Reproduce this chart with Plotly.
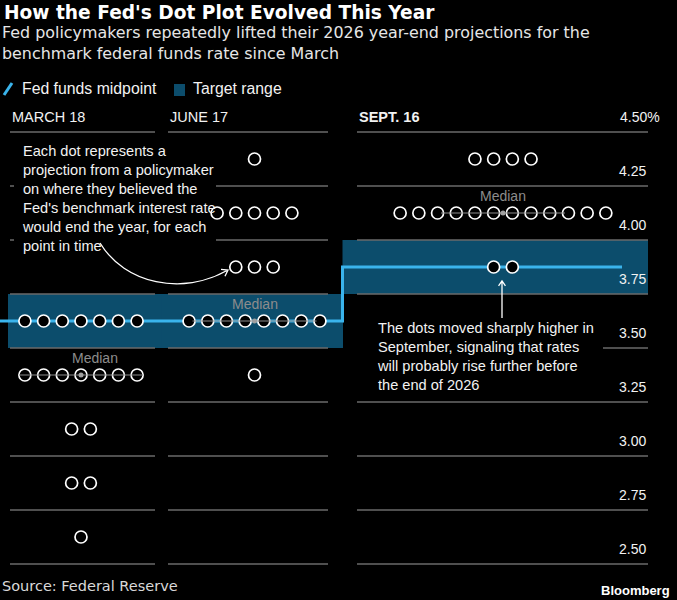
import math
import plotly.graph_objects as go

# ---------------- data ----------------
meetings = ["MARCH 18", "JUNE 17", "SEPT. 16"]
dot_levels = [4.375, 4.125, 3.875, 3.625, 3.375, 3.125, 2.875, 2.625]
dots_march = [0, 0, 0, 7, 7, 2, 2, 1]
dots_june = [1, 5, 3, 8, 1, 0, 0, 0]
dots_sept = [4, 12, 2, 0, 0, 0, 0, 0]
medians = [3.375, 3.625, 4.125]
target_low = [3.50, 3.50, 3.75]
target_high = [3.75, 3.75, 4.00]
tick_values = [4.50, 4.25, 4.00, 3.75, 3.50, 3.25, 3.00, 2.75, 2.50]
tick_labels = ["4.50%", "4.25", "4.00", "3.75", "3.50", "3.25", "3.00", "2.75", "2.50"]

# ---------------- layout constants ----------------
W, H = 677, 600
PX_PER_UNIT = 216.0
Y_REF_PX, Y_REF_VAL = 132.0, 4.50


def yv(py):
    return Y_REF_VAL - (py - Y_REF_PX) / PX_PER_UNIT


Y_TOP, Y_BOT = yv(0), yv(H)

panel_x = [(10, 155), (168, 328), (357, 648)]
dot_center = [81, 254.5, 503]
median_label_dx = [14, 0, 0]
band_x = [(8, 162.5), (161.5, 343), (342.5, 648)]
line_x = [(0, 161.5), (161.5, 342.5), (342.5, 622)]
spacing = 18.7
header_bold = [False, False, True]

BG = "#000000"
BAND = "#0c4d6c"
LINE = "#3ab4ec"
GRID = "#6a6a6a"
TXT = "#f2f2f2"
MED = "#8c8c8c"
ARIAL = "Liberation Sans, Arial, sans-serif"
DEJAVU = "DejaVu Sans, sans-serif"

fig = go.Figure()
shapes = []
annotations = []

# target range bands
for (x0, x1), lo, hi in zip(band_x, target_low, target_high):
    shapes.append(dict(type="rect", xref="x", yref="y", x0=x0, x1=x1, y0=lo, y1=hi,
                       fillcolor=BAND, line=dict(width=0), layer="below"))

# gridlines per panel
for (x0, x1) in panel_x:
    for v in tick_values:
        shapes.append(dict(type="line", xref="x", yref="y", x0=x0, x1=x1, y0=v, y1=v,
                           line=dict(color=GRID, width=1.5), layer="below"))

# black backings behind annotation texts (hide gridlines)
shapes.append(dict(type="rect", xref="x", yref="y", x0=14, x1=216, y0=yv(247), y1=yv(140),
                   fillcolor=BG, line=dict(width=0), layer="below"))
shapes.append(dict(type="rect", xref="x", yref="y", x0=357, x1=603, y0=yv(392), y1=yv(318),
                   fillcolor=BG, line=dict(width=0), layer="below"))

# fed funds midpoint line (step)
lx, ly = [], []
for (x0, x1), lo, hi in zip(line_x, target_low, target_high):
    mid = (lo + hi) / 2
    lx += [x0, x1]
    ly += [mid, mid]
fig.add_trace(go.Scatter(x=lx, y=ly, mode="lines", line=dict(color=LINE, width=3),
                         hoverinfo="skip", name="Fed funds midpoint"))

# dots
for k, counts in enumerate([dots_march, dots_june, dots_sept]):
    xs, ys = [], []
    for lvl, n in zip(dot_levels, counts):
        for i in range(n):
            xs.append(dot_center[k] + (i - (n - 1) / 2) * spacing)
            ys.append(lvl)
    fig.add_trace(go.Scatter(x=xs, y=ys, mode="markers",
                             marker=dict(size=12, color=BG, line=dict(color="white", width=1.7)),
                             hoverinfo="skip", name=meetings[k]))

# medians
for k, m in enumerate(medians):
    c = dot_center[k]
    fig.add_trace(go.Scatter(x=[c - 62, c + 62], y=[m, m], mode="lines",
                             line=dict(color=MED, width=1), hoverinfo="skip"))
    fig.add_trace(go.Scatter(x=[c], y=[m], mode="markers",
                             marker=dict(size=5, color="#a0a0a0"), hoverinfo="skip"))
    annotations.append(dict(x=c + median_label_dx[k], y=m, xref="x", yref="y", text="Median",
                            showarrow=False, yshift=17, xanchor="center", yanchor="middle",
                            font=dict(family=ARIAL, size=14, color=MED)))

# y tick labels
for v, t in zip(tick_values, tick_labels):
    annotations.append(dict(x=662 if t.endswith("%") else 648, y=v, xref="x", yref="y", text=t,
                            showarrow=False, xanchor="right", yanchor="bottom", yshift=5,
                            font=dict(family=ARIAL, size=14, color=TXT)))

# panel headers
for (x0, x1), name, b in zip(panel_x, meetings, header_bold):
    annotations.append(dict(x=x0, y=yv(117), xref="x", yref="y",
                            text=f"<b>{name}</b>" if b else name,
                            showarrow=False, xanchor="left", yanchor="middle",
                            font=dict(family=ARIAL, size=14.5, color=TXT)))

# explanatory notes
annotations.append(dict(x=20, y=yv(141), xref="x", yref="y",
                        text="Each dot represents a<br>projection from a policymaker<br>on where they believed the<br>"
                             "Fed's benchmark interest rate<br>would end the year, for each<br>point in time",
                        showarrow=False, xanchor="left", yanchor="top", align="left",
                        font=dict(family=ARIAL, size=14.6, color=TXT)))
annotations.append(dict(x=375, y=yv(318), xref="x", yref="y",
                        text="The dots moved sharply higher in<br>September, signaling that rates<br>"
                             "will probably rise further before<br>the end of 2026",
                        showarrow=False, xanchor="left", yanchor="top", align="left",
                        font=dict(family=ARIAL, size=14.6, color=TXT)))


# arrows
def head(tx, ty, fx, fy, L=7, ang=35):
    dx, dy = fx - tx, fy - ty
    d = math.hypot(dx, dy)
    dx, dy = dx / d, dy / d
    pts = []
    for s in (1, -1):
        a = math.radians(ang * s)
        rx = dx * math.cos(a) - dy * math.sin(a)
        ry = dx * math.sin(a) + dy * math.cos(a)
        pts.append((tx + rx * L, ty + ry * L))
    return pts


p0, c1, c2, p3 = (100, 243), (125, 284), (182, 296), (228, 270)
h1, h2 = head(p3[0], p3[1], c2[0], c2[1])
path1 = (f"M {p0[0]},{yv(p0[1])} C {c1[0]},{yv(c1[1])} {c2[0]},{yv(c2[1])} {p3[0]},{yv(p3[1])} "
         f"M {h1[0]},{yv(h1[1])} L {p3[0]},{yv(p3[1])} L {h2[0]},{yv(h2[1])}")
shapes.append(dict(type="path", xref="x", yref="y", path=path1, line=dict(color="white", width=1.3)))
t2, s2 = (502, 281), (502, 318)
g1, g2 = head(t2[0], t2[1], s2[0], s2[1], L=6)
path2 = (f"M {s2[0]},{yv(s2[1])} L {t2[0]},{yv(t2[1])} "
         f"M {g1[0]},{yv(g1[1])} L {t2[0]},{yv(t2[1])} L {g2[0]},{yv(g2[1])}")
shapes.append(dict(type="path", xref="x", yref="y", path=path2, line=dict(color="white", width=1.3)))

# legend (manual)
shapes.append(dict(type="line", xref="paper", yref="paper", x0=4 / W, x1=12 / W,
                   y0=1 - 95 / H, y1=1 - 83 / H, line=dict(color=LINE, width=3)))
shapes.append(dict(type="rect", xref="paper", yref="paper", x0=174 / W, x1=185 / W,
                   y0=1 - 96 / H, y1=1 - 84 / H, fillcolor=BAND, line=dict(width=0)))
annotations.append(dict(x=20 / W, y=1 - 89 / H, xref="paper", yref="paper", text="Fed funds midpoint",
                        showarrow=False, xanchor="left", yanchor="middle",
                        font=dict(family=ARIAL, size=15.8, color=TXT)))
annotations.append(dict(x=191 / W, y=1 - 89 / H, xref="paper", yref="paper", text="Target range",
                        showarrow=False, xanchor="left", yanchor="middle",
                        font=dict(family=ARIAL, size=15.8, color=TXT)))

# title, subtitle, footer
annotations.append(dict(x=2 / W, y=1 - 12 / H, xref="paper", yref="paper",
                        text="<b>How the Fed's Dot Plot Evolved This Year</b>",
                        showarrow=False, xanchor="left", yanchor="middle",
                        font=dict(family=DEJAVU, size=18.6, color="white")))
annotations.append(dict(x=0, y=1 - 43 / H, xref="paper", yref="paper",
                        text="Fed policymakers repeatedly lifted their 2026 year-end projections for the<br>"
                             "benchmark federal funds rate since March",
                        showarrow=False, xanchor="left", yanchor="middle", align="left",
                        font=dict(family=DEJAVU, size=15.9, color="#e6e6e6")))
annotations.append(dict(x=0, y=1 - 586 / H, xref="paper", yref="paper", text="Source: Federal Reserve",
                        showarrow=False, xanchor="left", yanchor="middle",
                        font=dict(family=DEJAVU, size=14.5, color="#d9d9d9")))
annotations.append(dict(x=672 / W, y=1 - 590 / H, xref="paper", yref="paper", text="<b>Bloomberg</b>",
                        showarrow=False, xanchor="right", yanchor="middle",
                        font=dict(family=ARIAL, size=13, color="white")))

fig.update_layout(
    width=W, height=H, margin=dict(l=0, r=0, t=0, b=0),
    paper_bgcolor=BG, plot_bgcolor=BG, showlegend=False,
    xaxis=dict(range=[0, W], visible=False, fixedrange=True),
    yaxis=dict(range=[Y_BOT, Y_TOP], visible=False, fixedrange=True),
    shapes=shapes, annotations=annotations,
)

fig.write_html("out.html", config={"displayModeBar": False},
               post_script="document.body.style.margin='0';document.body.style.background='#000';")
